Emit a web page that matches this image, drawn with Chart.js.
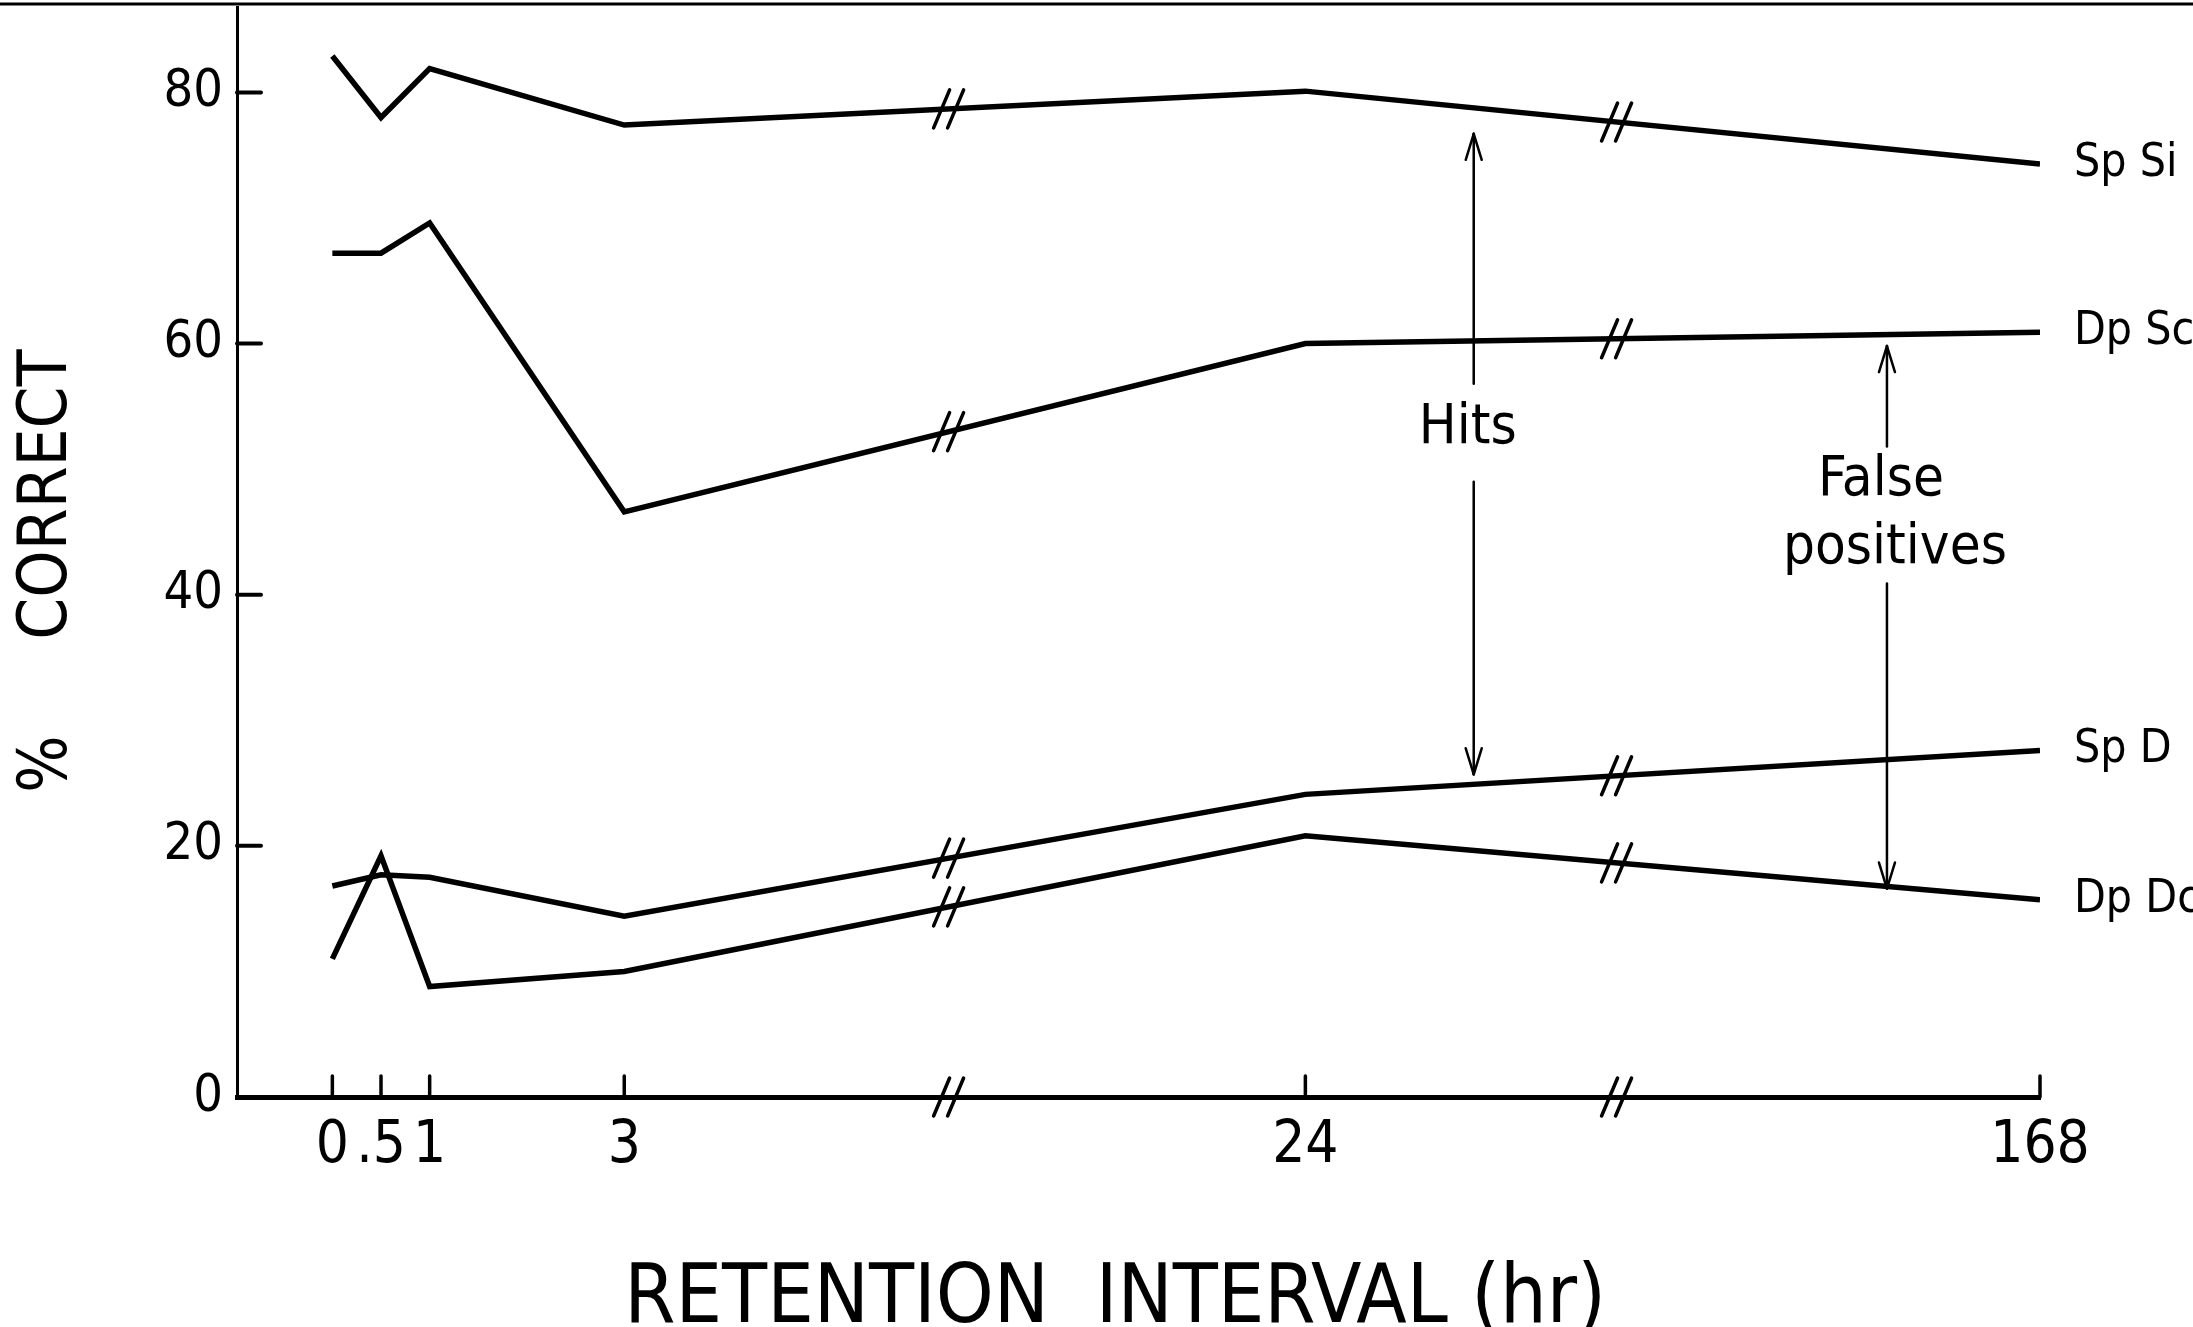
<!DOCTYPE html>
<html>
<head>
<meta charset="utf-8">
<script src="https://cdn.jsdelivr.net/npm/chart.js@4.4.0/dist/chart.umd.min.js"></script>
<style>
  html, body { margin: 0; padding: 0; background: #fff; }
  #wrap { width: 2193px; height: 1327px; }
</style>
</head>
<body>
<div id="wrap"><canvas id="retentionChart"></canvas></div>
<script>
// retention interval (hr) and % correct
const tickHours = [0, 0.5, 1, 3, 24, 168];
const tickLabels = ['0', '.5', '1', '3', '24', '168'];
const spSi = [82.9, 78.0, 81.9, 77.4, 80.1, 74.3];
const dpSc = [67.2, 67.2, 69.6, 46.6, 60.0, 60.9];
const spD = [16.8, 17.7, 17.5, 14.4, 24.1, 27.6];
const dpDc = [11.0, 19.2, 8.8, 10.0, 20.8, 15.7];
const seriesNames = ['Sp Si', 'Dp Sc', 'Sp D', 'Dp Dc'];
const breakHours = [13, 85];

const FONT = "'Liberation Sans Narrow', 'DejaVu Sans Condensed', 'Liberation Sans', sans-serif";

// broken time axis: 0-3 hr linear, then 3-24 and 24-168 squeezed
function axisPos(h) {
    if (h <= 3) return h;
    if (h <= 24) return 3 + (h - 3) / 3;
    return 10 + (h - 24) * 7.55 / 144;
}

function valueAt(data, u) {
    for (let i = 0; i < data.length - 1; i++) {
        const a = data[i], b = data[i + 1];
        if (u >= a.x && u <= b.x) return a.y + (b.y - a.y) * (u - a.x) / (b.x - a.x);
    }
    return null;
}

const extras = {
    id: 'extras',
    afterDatasetsDraw(chart) {
        const { ctx, chartArea: area, scales: { x, y } } = chart;
        const line = (x1, y1, x2, y2) => { ctx.beginPath(); ctx.moveTo(x1, y1); ctx.lineTo(x2, y2); ctx.stroke(); };
        const slash = (cx, cy) => {
            [-7, 7].forEach(off => line(cx + off - 8, cy + 19, cx + off + 8, cy - 19));
        };
        const arrow = (px, fromY, tipY) => {
            line(px, fromY, px, tipY);
            const d = tipY < fromY ? 1 : -1;
            line(px, tipY, px - 8, tipY + d * 26);
            line(px, tipY, px + 8, tipY + d * 26);
        };

        ctx.save();
        ctx.strokeStyle = '#000';
        ctx.fillStyle = '#000';
        ctx.lineCap = 'round';

        ctx.lineWidth = 3;
        line(0, 4, chart.width, 4);

        ctx.lineWidth = 4;
        y.ticks.forEach(t => {
            const py = y.getPixelForValue(t.value);
            line(area.left, py, area.left + 24, py);
        });
        ctx.lineWidth = 3.5;
        x.ticks.forEach(t => {
            const px = x.getPixelForValue(t.value);
            line(px, area.bottom, px, area.bottom - 21);
        });

        // axis breaks on the x axis and on every line
        ctx.lineWidth = 3.5;
        breakHours.forEach(h => {
            const u = axisPos(h);
            const px = x.getPixelForValue(u);
            slash(px, area.bottom);
            chart.data.datasets.forEach(ds => {
                const v = valueAt(ds.data, u);
                if (v !== null) slash(px, y.getPixelForValue(v));
            });
        });

        // Hits / False positives arrows
        ctx.lineWidth = 2.5;
        const hitsX = x.getPixelForValue(axisPos(57));
        arrow(hitsX, y.getPixelForValue(56.8), y.getPixelForValue(76.7));
        arrow(hitsX, y.getPixelForValue(49.0), y.getPixelForValue(25.7));
        const fpX = x.getPixelForValue(axisPos(138));
        arrow(fpX, y.getPixelForValue(51.8), y.getPixelForValue(59.8));
        arrow(fpX, y.getPixelForValue(40.9), y.getPixelForValue(16.6));

        ctx.textAlign = 'center';
        ctx.textBaseline = 'middle';
        ctx.font = '56px ' + FONT;
        ctx.fillText('Hits', hitsX - 6, y.getPixelForValue(53.2));
        ctx.fillText('False', fpX - 6, y.getPixelForValue(49.1));
        ctx.fillText('positives', fpX + 8, y.getPixelForValue(43.7));

        // series names at the right end of each line
        ctx.textAlign = 'left';
        ctx.font = '46px ' + FONT;
        chart.data.datasets.forEach(ds => {
            const last = ds.data[ds.data.length - 1];
            ctx.fillText(ds.label, x.getPixelForValue(last.x) + 34, y.getPixelForValue(last.y));
        });
        ctx.restore();
    }
};

const allSeries = [spSi, dpSc, spD, dpDc];

new Chart(document.getElementById('retentionChart'), {
    type: 'line',
    data: {
        datasets: allSeries.map((vals, i) => ({
            label: seriesNames[i],
            data: vals.map((v, j) => ({ x: axisPos(tickHours[j]), y: v })),
            borderColor: '#000',
            borderWidth: 5.5,
            pointRadius: 0,
            tension: 0,
            fill: false
        }))
    },
    options: {
        responsive: true,
        maintainAspectRatio: false,
        animation: false,
        layout: { padding: { top: 7, right: 153, left: 0, bottom: 0 } },
        plugins: {
            legend: { display: false },
            tooltip: { enabled: false }
        },
        scales: {
            x: {
                type: 'linear',
                min: -0.98,
                max: axisPos(168),
                grid: { display: false, drawTicks: false },
                border: { display: true, color: '#000', width: 5 },
                afterBuildTicks: scale => { scale.ticks = tickHours.map(h => ({ value: axisPos(h) })); },
                afterFit: scale => {
                    scale.height = 230;
                    scale.paddingLeft = 0;
                    scale.paddingRight = 0;
                },
                ticks: {
                    autoSkip: false,
                    maxRotation: 0,
                    padding: 15,
                    color: '#000',
                    font: { size: 58, family: FONT },
                    callback: (val, i) => tickLabels[i]
                },
                title: {
                    display: true,
                    text: 'RETENTION  INTERVAL (hr)  ',
                    color: '#000',
                    font: { size: 82, family: FONT, lineHeight: 0.65 },
                    padding: { top: 0, bottom: 0 }
                }
            },
            y: {
                min: 0,
                max: 86.8,
                grid: { display: false, drawTicks: false },
                border: { display: true, color: '#000', width: 3 },
                afterFit: scale => {
                    scale.width = 237;
                    scale.paddingTop = 0;
                    scale.paddingBottom = 0;
                },
                ticks: {
                    stepSize: 20,
                    includeBounds: false,
                    padding: 14,
                    color: '#000',
                    font: { size: 52, family: FONT }
                },
                title: {
                    display: true,
                    text: '%     CORRECT  ',
                    color: '#000',
                    font: { size: 67, family: FONT },
                    padding: { top: 8, bottom: 0 }
                }
            }
        }
    },
    plugins: [extras]
});
</script>
</body>
</html>
